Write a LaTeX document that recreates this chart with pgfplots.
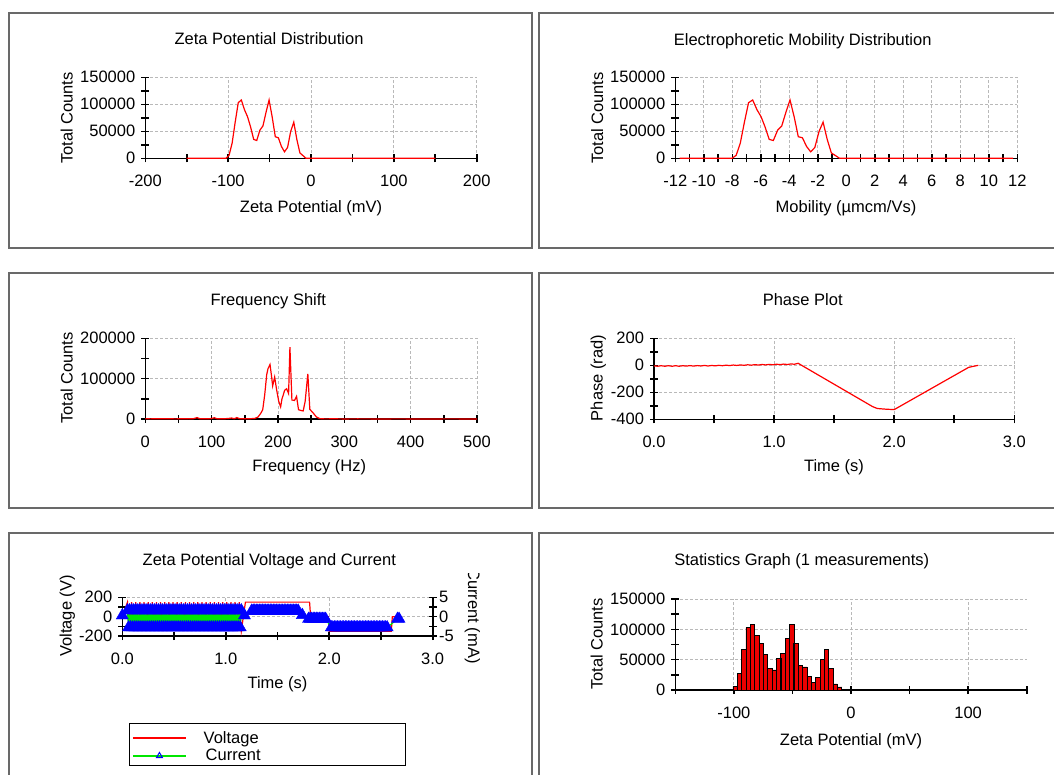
\documentclass[border=0pt]{standalone}
\usepackage{fontspec}
\setmainfont{Liberation Sans}
\usepackage{pgfplots}
\pgfplotsset{compat=1.18}

\definecolor{framegray}{RGB}{105,105,105}
\definecolor{gridgray}{RGB}{185,185,185}
\definecolor{zred}{RGB}{255,0,0}
\definecolor{zgreen}{RGB}{0,230,0}
\definecolor{zblue}{RGB}{0,0,255}

\newcommand\fs{\fontsize{16.5}{19.5}\selectfont}

\pgfplotsset{
  zs/.style={
    scale only axis, anchor=south west,
    axis x line*=bottom, axis y line*=left,
    axis line style={line width=1.6pt, black, -},
    major tick style={line width=1.6pt, black},
    minor tick style={line width=1.6pt, black},
    tick align=center,
    major tick length=8pt, minor tick length=8pt,
    xtick pos=bottom, ytick pos=left,
    grid=major,
    major grid style={gridgray, line width=0.9pt, dash pattern=on 3pt off 2pt},
    tick label style={font=\fs},
    xticklabel style={yshift=-9.5pt},
    yticklabel style={xshift=-2.5pt},
    scaled ticks=false,
    clip=false,
  },
  zline/.style={zred, line width=1.2pt, no markers},
}

\begin{document}
\begin{tikzpicture}[font=\fs]
\useasboundingbox (0pt,0pt) rectangle (1054pt,-774pt);
\clip (0pt,0pt) rectangle (1054pt,-774pt);

% panel frames
\draw[framegray, line width=1.6pt] (9pt,-13pt) rectangle (532pt,-248pt);
\draw[framegray, line width=1.6pt] (539pt,-13pt) rectangle (1070pt,-248pt);
\draw[framegray, line width=1.6pt] (9pt,-273pt) rectangle (532pt,-508pt);
\draw[framegray, line width=1.6pt] (539pt,-273pt) rectangle (1070pt,-508pt);
\draw[framegray, line width=1.6pt] (9pt,-533pt) rectangle (532pt,-790pt);
\draw[framegray, line width=1.6pt] (539pt,-533pt) rectangle (1070pt,-790pt);
% legend frame
\draw[black, line width=1pt] (129pt,-723pt) rectangle (405pt,-765pt);

% ---------- Zeta Potential Distribution
\begin{axis}[zs, at={(145.3pt,-158.3pt)}, width=331.4pt, height=81pt,
  xmin=-200, xmax=200, ymin=0, ymax=150000,
  xtick={-200,-100,0,100,200}, xticklabels={-200,-100,0,100,200},
  minor xtick={-150,-50,50,150},
  ytick={0,50000,100000,150000}, yticklabels={0,50000,100000,150000},
  minor ytick={25000,75000,125000}]
\addplot[zline] coordinates {
  (-150,0) (-102.6,0) (-98.9,5500) (-95.2,28000) (-91.5,67000) (-87.8,103000)
  (-84.1,108000) (-80.3,90000) (-76.6,77000) (-72.9,58000) (-69.2,35000)
  (-65.5,33000) (-61.7,52000) (-58.0,60000) (-54.3,85000) (-50.6,108000)
  (-46.9,77000) (-43.1,40000) (-39.4,38000) (-35.7,22000) (-32.0,12000)
  (-28.3,20000) (-24.5,50000) (-20.8,67000) (-17.1,35000) (-13.4,10000)
  (-9.7,5000) (-6.0,0) (150,0)};
\end{axis}
\node[anchor=base] at (269pt,-44pt) {Zeta Potential Distribution};
\node[anchor=base] at (311pt,-212pt) {Zeta Potential (mV)};
\node[anchor=base, rotate=90] at (72.5pt,-118pt) {Total Counts};

% ---------- Electrophoretic Mobility Distribution
\begin{axis}[zs, at={(675.3pt,-158.3pt)}, width=342pt, height=81pt,
  xmin=-12, xmax=12, ymin=0, ymax=150000,
  xtick={-12,-10,-8,-6,-4,-2,0,2,4,6,8,10,12},
  xticklabels={-12,-10,-8,-6,-4,-2,0,2,4,6,8,10,12},
  minor xtick={-11,-9,-7,-5,-3,-1,1,3,5,7,9,11},
  ytick={0,50000,100000,150000}, yticklabels={0,50000,100000,150000},
  minor ytick={25000,75000,125000}]
\addplot[zline] coordinates {
  (-11.7,0) (-8.02,0) (-7.73,5500) (-7.44,28000) (-7.15,67000) (-6.86,103000)
  (-6.57,108000) (-6.27,90000) (-5.98,77000) (-5.70,58000) (-5.41,35000)
  (-5.12,33000) (-4.82,52000) (-4.53,60000) (-4.24,85000) (-3.95,108000)
  (-3.66,77000) (-3.37,40000) (-3.08,38000) (-2.79,22000) (-2.50,12000)
  (-2.21,20000) (-1.91,50000) (-1.63,67000) (-1.34,35000) (-1.05,10000)
  (-0.76,5000) (-0.47,0) (11.7,0)};
\end{axis}
\node[anchor=base] at (802.7pt,-45pt) {Electrophoretic Mobility Distribution};
\node[anchor=base] at (846pt,-212pt) {Mobility (µmcm/Vs)};
\node[anchor=base, rotate=90] at (603pt,-118pt) {Total Counts};

% ---------- Frequency Shift
\begin{axis}[zs, at={(145.3pt,-419pt)}, width=331.7pt, height=80.7pt,
  xmin=0, xmax=500, ymin=0, ymax=200000,
  xtick={0,100,200,300,400,500}, xticklabels={0,100,200,300,400,500},
  minor xtick={50,150,250,350,450},
  ytick={0,100000,200000}, yticklabels={0,100000,200000},
  minor ytick={50000,150000}]
\addplot[zline] coordinates {
  (0,800) (8,300) (15,900) (25,400) (35,700) (45,300) (55,600) (65,900)
  (72,500) (78,3500) (82,800) (92,400) (100,1200) (104,3200) (108,700)
  (118,500) (126,1500) (130,2500) (134,700) (138,3500) (142,900) (150,400)
  (158,700) (165,1500) (170,5000) (174,14000) (177,23000) (180,60000)
  (183,110000) (185,125000) (188,135000) (190,110000) (192,82000)
  (195,104000) (198,72000) (201,45000) (204,30000) (206,50000) (208,60000)
  (210,71000) (213,75000) (216,63000) (218,178000) (221,47000) (225,46000)
  (228,56000) (231,23000) (235,21000) (238,20000) (241,44000) (245,112000)
  (248,24000) (253,15000) (258,5000) (263,1000) (270,300) (285,500)
  (300,200) (320,400) (350,200) (380,300) (420,200) (460,300) (500,200)};
\end{axis}
\node[anchor=base] at (268.3pt,-305pt) {Frequency Shift};
\node[anchor=base] at (309.3pt,-471.5pt) {Frequency (Hz)};
\node[anchor=base, rotate=90] at (72.5pt,-378pt) {Total Counts};

% ---------- Phase Plot
\begin{axis}[zs, at={(654pt,-419.3pt)}, width=360.3pt, height=81pt,
  xmin=0, xmax=3, ymin=-400, ymax=200,
  xtick={0,1,2,3}, xticklabels={0.0,1.0,2.0,3.0},
  minor xtick={0.5,1.5,2.5},
  ytick={-400,-200,0,200}, yticklabels={-400,-200,0,200},
  minor ytick={-300,-100,100}]
\addplot[zline] coordinates {
  (0.00,-4) (0.03,-7) (0.06,-3) (0.09,-7) (0.12,-3) (0.15,-7) (0.18,-3)
  (0.21,-7) (0.24,-3) (0.27,-6) (0.30,-2) (0.33,-6) (0.36,-2) (0.39,-5)
  (0.42,-1) (0.45,-5) (0.48,-1) (0.51,-4) (0.54,0) (0.57,-3) (0.60,1)
  (0.63,-2) (0.66,2) (0.69,-1) (0.72,3) (0.75,0) (0.78,4) (0.81,1)
  (0.84,5) (0.87,2) (0.90,6) (0.93,3) (0.96,7) (0.99,4) (1.02,8) (1.05,5)
  (1.08,9) (1.11,6) (1.14,10) (1.17,8) (1.20,15)
  (1.82,-306) (1.86,-320) (1.93,-325) (2.00,-328) (2.62,-15) (2.70,0)};
\end{axis}
\node[anchor=base] at (802.7pt,-305pt) {Phase Plot};
\node[anchor=base] at (834pt,-471.5pt) {Time (s)};
\node[anchor=base, rotate=90] at (602.5pt,-378pt) {Phase (rad)};

% ---------- Zeta Potential Voltage and Current
\begin{axis}[zs, at={(122.3pt,-636pt)}, width=310.4pt, height=38.7pt,
  xmin=0, xmax=3, ymin=-200, ymax=200,
  xtick={0,1,2,3}, xticklabels={0.0,1.0,2.0,3.0},
  minor xtick={0.5,1.5,2.5},
  ytick={-200,0,200}, yticklabels={-200,0,200},
  minor ytick={-100,100}]
\addplot[zred, line width=1.2pt] coordinates {
  (0,0)
  (0.05,150) (0.07,-150) (0.09,150) (0.11,-150) (0.13,150) (0.15,-150)
  (0.17,150) (0.19,-150) (0.21,150) (0.23,-150) (0.25,150) (0.27,-150)
  (0.29,150) (0.31,-150) (0.33,150) (0.35,-150) (0.37,150) (0.39,-150)
  (0.41,150) (0.43,-150) (0.45,150) (0.47,-150) (0.49,150) (0.51,-150)
  (0.53,150) (0.55,-150) (0.57,150) (0.59,-150) (0.61,150) (0.63,-150)
  (0.65,150) (0.67,-150) (0.69,150) (0.71,-150) (0.73,150) (0.75,-150)
  (0.77,150) (0.79,-150) (0.81,150) (0.83,-150) (0.85,150) (0.87,-150)
  (0.89,150) (0.91,-150) (0.93,150) (0.95,-150) (0.97,150) (0.99,-150)
  (1.01,150) (1.03,-150) (1.05,150) (1.07,-150) (1.09,150) (1.11,-150)
  (1.13,150) (1.15,-150)
  (1.19,150) (1.81,150) (1.82,0) (1.99,0) (2.00,-150) (2.60,-150)
  (2.61,0) (2.70,0)};
\end{axis}
\begin{axis}[scale only axis, anchor=south west, at={(122.3pt,-636pt)},
  width=310.4pt, height=38.7pt,
  xmin=0, xmax=3, ymin=-5, ymax=5,
  axis x line=none, axis y line*=right,
  axis line style={line width=1.6pt, black, -},
  major tick style={line width=1.6pt, black},
  minor tick style={line width=1.6pt, black},
  tick align=center, major tick length=8pt, minor tick length=8pt,
  ytick pos=right, yticklabel pos=right,
  ytick={-5,0,5}, yticklabels={-5,0,5}, minor ytick={-2.5,2.5},
  tick label style={font=\fs}, yticklabel style={xshift=-1pt},
  clip=false,
  legend style={at={(0.0216,-2.33)}, anchor=north west, draw=none,
    fill=none, font=\fs, inner xsep=3pt, inner ysep=3pt,
    row sep=0.6pt, cells={anchor=west},
    /tikz/every even column/.append style={column sep=0pt}},
  ]
\addlegendimage{legend image code/.code={
  \draw[zred, line width=1.5pt] (0pt,0pt) -- (53pt,0pt);}}
\addlegendentry{\makebox[212pt][l]{\hspace{15pt}Voltage}}
\addlegendimage{legend image code/.code={
  \draw[zgreen, line width=1.5pt, mark repeat=2, mark phase=2, mark=triangle,
    mark size=3.5pt, mark options={draw=zblue, line width=1pt}]
    plot coordinates {(0pt,0pt) (26.5pt,0pt) (53pt,0pt)};}}
\addlegendentry{\makebox[212pt][l]{\hspace{17pt}Current}}
\addplot[forget plot, zgreen, line width=1.2pt, mark=triangle*, mark size=7pt,
  mark options={zblue, fill=zblue, line width=0.4pt}] coordinates {
  (0,0.3)
  (0.05,1.6) (0.06,-2.8) (0.07,1.6) (0.08,-2.8) (0.09,1.6) (0.10,-2.8)
  (0.11,1.6) (0.12,-2.8) (0.13,1.6) (0.14,-2.8) (0.15,1.6) (0.16,-2.8)
  (0.17,1.6) (0.18,-2.8) (0.19,1.6) (0.20,-2.8) (0.21,1.6) (0.22,-2.8)
  (0.23,1.6) (0.24,-2.8) (0.25,1.6) (0.26,-2.8) (0.27,1.6) (0.28,-2.8)
  (0.29,1.6) (0.30,-2.8) (0.31,1.6) (0.32,-2.8) (0.33,1.6) (0.34,-2.8)
  (0.35,1.6) (0.36,-2.8) (0.37,1.6) (0.38,-2.8) (0.39,1.6) (0.40,-2.8)
  (0.41,1.6) (0.42,-2.8) (0.43,1.6) (0.44,-2.8) (0.45,1.6) (0.46,-2.8)
  (0.47,1.6) (0.48,-2.8) (0.49,1.6) (0.50,-2.8) (0.51,1.6) (0.52,-2.8)
  (0.53,1.6) (0.54,-2.8) (0.55,1.6) (0.56,-2.8) (0.57,1.6) (0.58,-2.8)
  (0.59,1.6) (0.60,-2.8) (0.61,1.6) (0.62,-2.8) (0.63,1.6) (0.64,-2.8)
  (0.65,1.6) (0.66,-2.8) (0.67,1.6) (0.68,-2.8) (0.69,1.6) (0.70,-2.8)
  (0.71,1.6) (0.72,-2.8) (0.73,1.6) (0.74,-2.8) (0.75,1.6) (0.76,-2.8)
  (0.77,1.6) (0.78,-2.8) (0.79,1.6) (0.80,-2.8) (0.81,1.6) (0.82,-2.8)
  (0.83,1.6) (0.84,-2.8) (0.85,1.6) (0.86,-2.8) (0.87,1.6) (0.88,-2.8)
  (0.89,1.6) (0.90,-2.8) (0.91,1.6) (0.92,-2.8) (0.93,1.6) (0.94,-2.8)
  (0.95,1.6) (0.96,-2.8) (0.97,1.6) (0.98,-2.8) (0.99,1.6) (1.00,-2.8)
  (1.01,1.6) (1.02,-2.8) (1.03,1.6) (1.04,-2.8) (1.05,1.6) (1.06,-2.8)
  (1.07,1.6) (1.08,-2.8) (1.09,1.6) (1.10,-2.8) (1.11,1.6) (1.12,-2.8)
  (1.13,1.6) (1.14,-2.8) (1.15,1.6)
  (1.18,0.3)
  (1.250,1.5) (1.265,1.5) (1.280,1.5) (1.295,1.5) (1.310,1.5) (1.325,1.5)
  (1.340,1.5) (1.355,1.5) (1.370,1.5) (1.385,1.5) (1.400,1.5) (1.415,1.5)
  (1.430,1.5) (1.445,1.5) (1.460,1.5) (1.475,1.5) (1.490,1.5) (1.505,1.5)
  (1.520,1.5) (1.535,1.5) (1.550,1.5) (1.565,1.5) (1.580,1.5) (1.595,1.5)
  (1.610,1.5) (1.625,1.5) (1.640,1.5) (1.655,1.5) (1.670,1.5) (1.685,1.5)
  (1.700,1.5)
  (1.74,0.4)
  (1.800,-0.6) (1.815,-0.6) (1.830,-0.6) (1.845,-0.6) (1.860,-0.6)
  (1.875,-0.6) (1.890,-0.6) (1.905,-0.6) (1.920,-0.6) (1.935,-0.6)
  (1.950,-0.6) (1.965,-0.6)
  (2.020,-2.8) (2.035,-2.8) (2.050,-2.8) (2.065,-2.8) (2.080,-2.8)
  (2.095,-2.8) (2.110,-2.8) (2.125,-2.8) (2.140,-2.8) (2.155,-2.8)
  (2.170,-2.8) (2.185,-2.8) (2.200,-2.8) (2.215,-2.8) (2.230,-2.8)
  (2.245,-2.8) (2.260,-2.8) (2.275,-2.8) (2.290,-2.8) (2.305,-2.8)
  (2.320,-2.8) (2.335,-2.8) (2.350,-2.8) (2.365,-2.8) (2.380,-2.8)
  (2.395,-2.8) (2.410,-2.8) (2.425,-2.8) (2.440,-2.8) (2.455,-2.8)
  (2.470,-2.8) (2.485,-2.8) (2.500,-2.8) (2.515,-2.8) (2.530,-2.8)
  (2.545,-2.8) (2.560,-2.8)
  (2.660,-0.6) (2.675,-0.6)};
\end{axis}
\node[anchor=base] at (269.3pt,-565pt) {Zeta Potential Voltage and Current};
\node[anchor=base] at (277.5pt,-688.3pt) {Time (s)};
\node[anchor=base, rotate=90] at (71.5pt,-616pt) {Voltage (V)};
\begin{scope}
\clip (440pt,-573pt) rectangle (500pt,-700pt);
\node[anchor=base, rotate=-90] at (468pt,-616pt) {Current (mA)};
\end{scope}

% ---------- Statistics Graph
\begin{axis}[zs, at={(675.3pt,-690pt)}, width=351.4pt, height=91pt,
  xmin=-150, xmax=150, ymin=0, ymax=150000,
  xtick={-100,0,100}, xticklabels={-100,0,100},
  minor xtick={-150,-50,50,150},
  ytick={0,50000,100000,150000}, yticklabels={0,50000,100000,150000},
  minor ytick={25000,75000,125000}]
\addplot[ybar, bar width=3.72, bar shift=0pt, fill=zred!92!black, draw=black,
  line width=0.8pt] coordinates {
  (-98.9,5500) (-95.2,28000) (-91.5,67000) (-87.8,103000) (-84.1,108000)
  (-80.3,90000) (-76.6,77000) (-72.9,58000) (-69.2,35000) (-65.5,33000)
  (-61.7,52000) (-58.0,60000) (-54.3,85000) (-50.6,108000) (-46.9,77000)
  (-43.1,40000) (-39.4,38000) (-35.7,22000) (-32.0,12000) (-28.3,20000)
  (-24.5,50000) (-20.8,67000) (-17.1,35000) (-13.4,10000) (-9.7,5000)};
\end{axis}
\node[anchor=base] at (801.7pt,-565.5pt) {Statistics Graph (1 measurements)};
\node[anchor=base] at (851pt,-745pt) {Zeta Potential (mV)};
\node[anchor=base, rotate=90] at (602.7pt,-644pt) {Total Counts};

\end{tikzpicture}
\end{document}
